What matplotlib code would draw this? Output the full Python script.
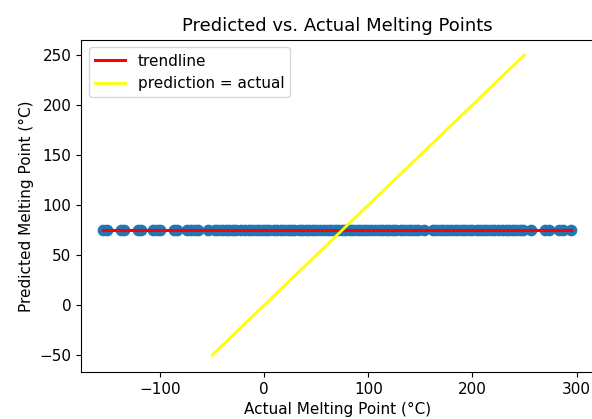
import numpy as np
import matplotlib.pyplot as plt

# Actual melting points (°C) of the test compounds
actual = [-155, -151, -138, -135, -121, -118, -107, -103, -100, -87, -84, -74, -70, -67, -64, -54,
          -47, -44, -41, -37, -34, -30, -27, -22, -19, -15, -12, -8, -5, -1, 2, 5, 9, 12, 16, 19,
          23, 26, 29, 33, 36, 40, 43, 47, 50, 54, 57, 61, 64, 68, 71, 75, 78, 82, 85, 89, 92,
          96, 99, 103, 106, 110, 113, 117, 120, 124, 127, 131, 134, 138, 141, 145, 148, 153,
          162, 165, 169, 172, 176, 179, 183, 186, 190, 193, 197, 200, 204, 207, 211, 214, 218,
          221, 225, 228, 232, 235, 239, 242, 246, 249, 256, 270, 274, 283, 287, 295]
# The model predicts the same melting point for every compound
predicted_value = 75.4
predicted = np.full(len(actual), predicted_value)

# Reference line where prediction equals actual
ideal = [-50, 250]

actual = np.array(actual)
coefficients = np.polyfit(actual, predicted, 1)
trend = np.poly1d(coefficients)
trend_x = np.array([actual.min(), actual.max()])

fig = plt.figure(figsize=(5.92, 4.19), dpi=100)
ax = fig.add_axes([0.137, 0.112, 0.865, 0.793])

ax.scatter(actual, predicted, s=55, color='#1f77b4', zorder=2)
ax.plot(trend_x, trend(trend_x), color='red', lw=2.2, label='trendline', zorder=3)
ax.plot(ideal, ideal, color='yellow', lw=2, label='prediction = actual', zorder=4)

ax.set_xlim(-176, 316)
ax.set_ylim(-67, 265)
ax.set_xticks([-100, 0, 100, 200, 300])
ax.set_yticks([-50, 0, 50, 100, 150, 200, 250])

ax.set_title('Predicted vs. Actual Melting Points', fontsize=13)
ax.set_xlabel('Actual Melting Point (°C)', fontsize=11)
ax.set_ylabel('Predicted Melting Point (°C)', fontsize=11)
ax.tick_params(labelsize=11)
ax.legend(loc='upper left', fontsize=11)

fig.savefig('out.png', dpi=100)
